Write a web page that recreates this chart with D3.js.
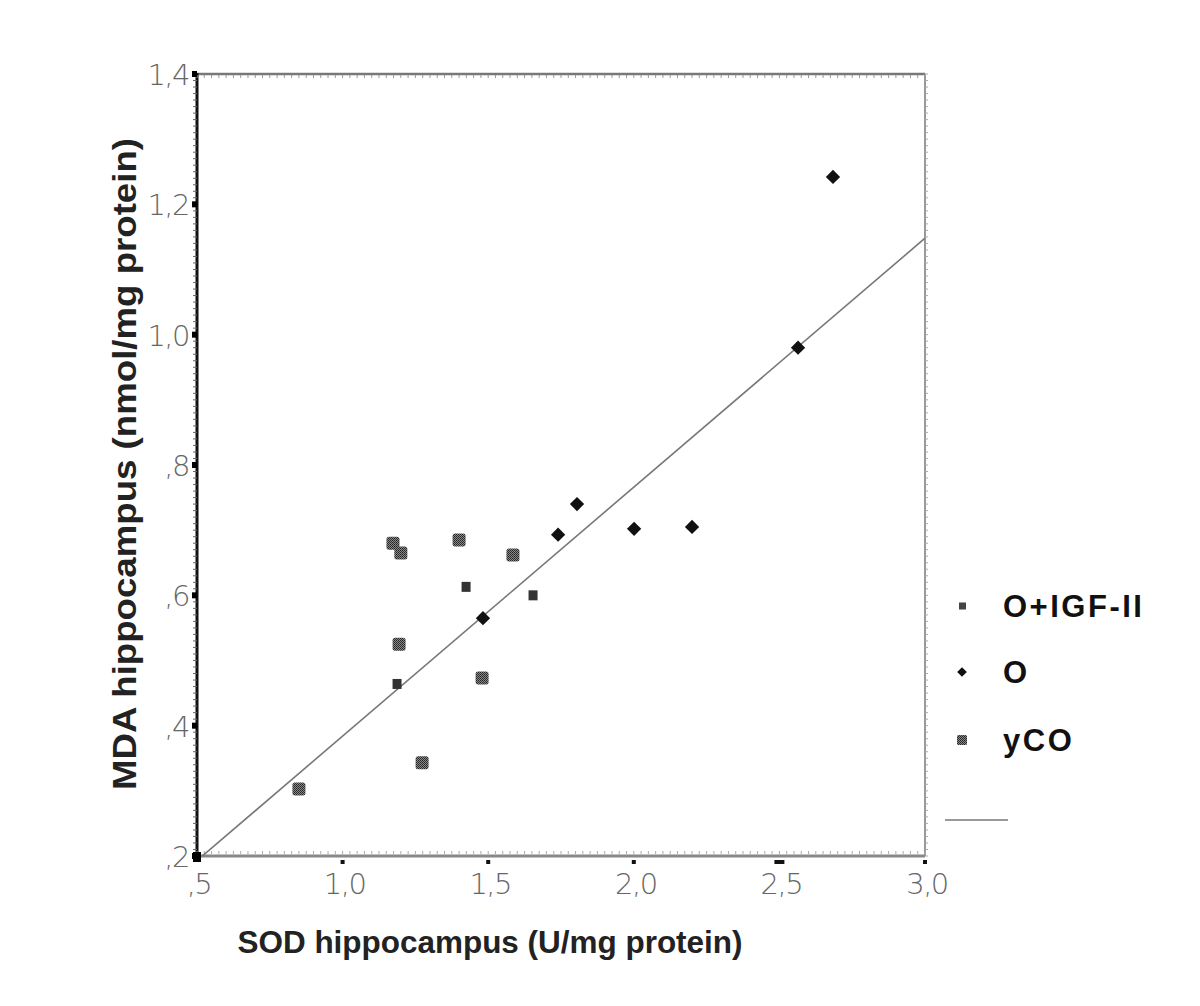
<!DOCTYPE html>
<html><head><meta charset="utf-8">
<script src="https://cdn.jsdelivr.net/npm/d3@7"></script>
<style>body{margin:0;background:#fff}</style>
</head><body>
<svg id="c" width="1200" height="1006"></svg>
<script>
// ---- data ----
const xTicks = [0.5, 1.0, 1.5, 2.0, 2.5, 3.0];
const xTickLabels = [",5", "1,0", "1,5", "2,0", "2,5", "3,0"];
const yTicks = [0.2, 0.4, 0.6, 0.8, 1.0, 1.2, 1.4];
const yTickLabels = [",2", ",4", ",6", ",8", "1,0", "1,2", "1,4"];
const groups = ["O+IGF-II", "O", "yCO"];
const igfX = [1.424, 1.654, 1.187];
const igfY = [0.613, 0.600, 0.464];
const oX = [1.482, 1.740, 1.805, 2.001, 2.200, 2.564, 2.684];
const oY = [0.565, 0.693, 0.740, 0.702, 0.705, 0.980, 1.242];
const ycoX = [1.173, 1.200, 1.400, 1.585, 1.194, 1.479, 1.273, 0.850];
const ycoY = [0.680, 0.665, 0.685, 0.662, 0.525, 0.473, 0.343, 0.303];
const fitX = [0.5, 3.0];
const fitY = [0.193, 1.148];

const svg = d3.select("#c");
const x = d3.scaleLinear().domain([0.5, 3.0]).range([197, 925]);
const y = d3.scaleLinear().domain([0.2, 1.4]).range([856, 74]);

const defs = svg.append("defs");
const pat = defs.append("pattern").attr("id","hatch").attr("width",2).attr("height",2).attr("patternUnits","userSpaceOnUse");
pat.append("rect").attr("width",2).attr("height",2).attr("fill","#888");
pat.append("rect").attr("width",1).attr("height",1).attr("fill","#222");
pat.append("rect").attr("x",1).attr("y",1).attr("width",1).attr("height",1).attr("fill","#333");
defs.append("clipPath").attr("id","clip").append("rect")
  .attr("x",197).attr("y",74).attr("width",728).attr("height",782);

// frame: top, right, bottom gray; left black
const frame = svg.append("g");
frame.append("line").attr("x1",197).attr("x2",925).attr("y1",74).attr("y2",74).attr("stroke","#777").attr("stroke-width",2.5);
frame.append("line").attr("x1",925).attr("x2",925).attr("y1",74).attr("y2",856).attr("stroke","#999").attr("stroke-width",2);
frame.append("line").attr("x1",197).attr("x2",925).attr("y1",856).attr("y2",856).attr("stroke","#888").attr("stroke-width",3);

// minor ticks
const yMinor = d3.range(0.2, 1.4001, 0.01);
svg.append("g").selectAll("line").data(yMinor).join("line")
  .attr("x1",193).attr("x2",197).attr("y1",d=>y(d)).attr("y2",d=>y(d))
  .attr("stroke","#666").attr("stroke-width",1);
svg.append("g").selectAll("line").data(yMinor).join("line")
  .attr("x1",925).attr("x2",928).attr("y1",d=>y(d)).attr("y2",d=>y(d))
  .attr("stroke","#aaa").attr("stroke-width",1);
const xMinor = d3.range(0.5, 3.0001, 0.025);
svg.append("g").selectAll("line").data(xMinor).join("line")
  .attr("x1",d=>x(d)).attr("x2",d=>x(d)).attr("y1",851).attr("y2",854)
  .attr("stroke","#aaa").attr("stroke-width",1);
svg.append("g").selectAll("line").data(xMinor).join("line")
  .attr("x1",d=>x(d)).attr("x2",d=>x(d)).attr("y1",75).attr("y2",78)
  .attr("stroke","#999").attr("stroke-width",1);

// left axis line (black)
frame.append("line").attr("x1",197).attr("x2",197).attr("y1",73).attr("y2",858).attr("stroke","#111").attr("stroke-width",3);

// major ticks
svg.append("g").selectAll("rect").data(yTicks).join("rect")
  .attr("x",192).attr("y",d=>y(d)-3).attr("width",5).attr("height",6).attr("fill","#000");
svg.append("g").selectAll("rect").data(xTicks.slice(1)).join("rect")
  .attr("x",d=>x(d)-(d===2.5?5:2)).attr("y",860).attr("width",d=>d===2.5?10:4).attr("height",4).attr("fill","#111");
svg.append("rect").attr("x",193).attr("y",852).attr("width",8).attr("height",10).attr("fill","#000");

// tick labels
svg.append("g").selectAll("text").data(yTicks).join("text")
  .attr("x",189).attr("y",d=>y(d)+11).attr("text-anchor","end")
  .attr("font-family","DejaVu Sans").attr("font-size",29).attr("font-weight",200)
  .attr("fill","#666").attr("letter-spacing",-1.5)
  .text((d,i)=>yTickLabels[i]);
svg.append("g").selectAll("text").data(xTicks).join("text")
  .attr("x",d=>x(d)+2).attr("y",894).attr("text-anchor","middle")
  .attr("font-family","DejaVu Sans").attr("font-size",29).attr("font-weight",200)
  .attr("fill","#666").attr("letter-spacing",-1.5)
  .text((d,i)=>xTickLabels[i]);

// fit line
svg.append("line").attr("clip-path","url(#clip)")
  .attr("x1",x(fitX[0])).attr("y1",y(fitY[0])).attr("x2",x(fitX[1])).attr("y2",y(fitY[1]))
  .attr("stroke","#777").attr("stroke-width",1.6);

// points
const pts = svg.append("g");
const ycoData = ycoX.map((v,i)=>[v,ycoY[i]]);
const igfData = igfX.map((v,i)=>[v,igfY[i]]);
const oData = oX.map((v,i)=>[v,oY[i]]);
pts.selectAll("rect.yco").data(ycoData).join("rect").attr("class","yco")
  .attr("x",d=>x(d[0])-6.5).attr("y",d=>y(d[1])-6.5).attr("width",13).attr("height",13).attr("rx",2.5)
  .attr("fill","url(#hatch)");
pts.selectAll("rect.igf").data(igfData).join("rect").attr("class","igf")
  .attr("x",d=>x(d[0])-4.5).attr("y",d=>y(d[1])-5).attr("width",9).attr("height",10)
  .attr("fill","#333");
const diamond = d3.symbol().type(d3.symbolDiamond2).size(130);
pts.selectAll("path.o").data(oData).join("path").attr("class","o")
  .attr("transform",d=>`translate(${x(d[0])},${y(d[1])})`).attr("d",diamond).attr("fill","#111");

// axis titles
svg.append("text").attr("x",490).attr("y",953).attr("text-anchor","middle")
  .attr("font-family","Liberation Sans").attr("font-weight","bold").attr("font-size",31).attr("fill","#222")
  .attr("textLength",505).attr("lengthAdjust","spacingAndGlyphs")
  .text("SOD hippocampus (U/mg protein)");
svg.append("text").attr("transform","translate(136,464) rotate(-90)").attr("text-anchor","middle")
  .attr("font-family","Liberation Sans").attr("font-weight","bold").attr("font-size",33).attr("fill","#222")
  .attr("textLength",652).attr("lengthAdjust","spacingAndGlyphs")
  .text("MDA hippocampus (nmol/mg protein)");

// legend
const legY = [606, 672, 740];
const lg = svg.append("g");
lg.append("rect").attr("x",959).attr("y",legY[0]-3.5).attr("width",7).attr("height",7).attr("fill","#444");
lg.append("path").attr("transform",`translate(962,${legY[1]})`).attr("d",d3.symbol().type(d3.symbolDiamond2).size(60)).attr("fill","#111");
lg.append("rect").attr("x",957).attr("y",legY[2]-5).attr("width",10).attr("height",10).attr("rx",1.5).attr("fill","url(#hatch)");
lg.selectAll("text").data(groups).join("text")
  .attr("x",1003).attr("y",(d,i)=>legY[i]+11)
  .attr("font-family","Liberation Sans").attr("font-weight","bold").attr("font-size",31).attr("fill","#111")
  .attr("letter-spacing",2.5)
  .text(d=>d);
lg.append("line").attr("x1",945).attr("x2",1008).attr("y1",820).attr("y2",820).attr("stroke","#777").attr("stroke-width",1.5);
</script>
</body></html>
